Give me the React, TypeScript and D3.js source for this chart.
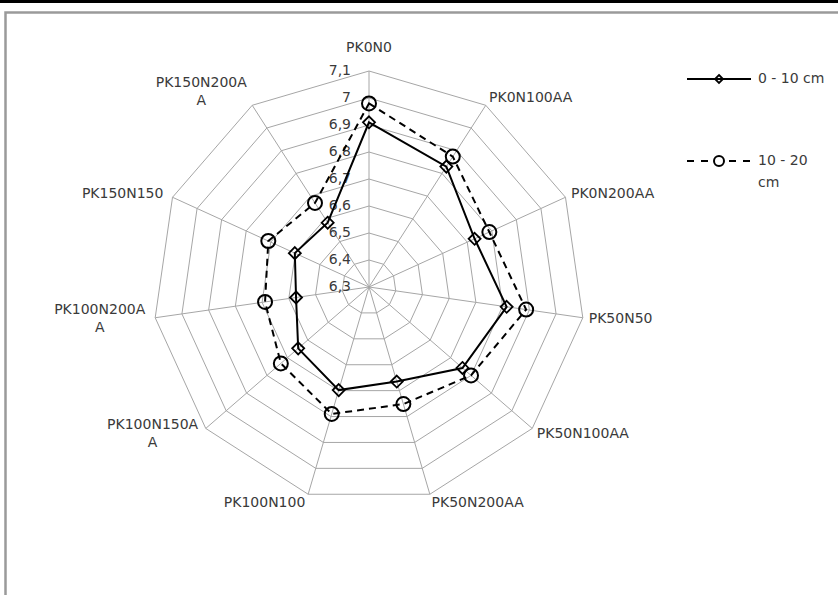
import { useRef, useEffect } from 'react';
import * as d3 from 'd3';

const W = 838, H = 595;
const CX = 369, CY = 287, R = 216;

const CATEGORIES = [
  'PK0N0', 'PK0N100AA', 'PK0N200AA', 'PK50N50', 'PK50N100AA', 'PK50N200AA',
  'PK100N100', 'PK100N150AA', 'PK100N200AA', 'PK150N150', 'PK150N200AA',
];
const DEPTH_0_10 = [6.91, 6.83, 6.73, 6.815, 6.758, 6.665, 6.698, 6.647, 6.573, 6.602, 6.583];
const DEPTH_10_20 = [6.98, 6.874, 6.79, 6.888, 6.8, 6.752, 6.79, 6.732, 6.689, 6.71, 6.67];
const TICKS = [6.3, 6.4, 6.5, 6.6, 6.7, 6.8, 6.9, 7.0, 7.1];
const SERIES_NAMES = ['0 - 10 cm', '10 - 20 cm'];

const FONT = 'DejaVu Sans, sans-serif';
const TEXT = '#3a3a3a';
const GRID = '#a6a6a6';

// Excel wraps long category names after 10 characters
const wrapCat = (s: string) => (s.length > 10 ? [s.slice(0, 10), s.slice(10)] : [s]);
const wrapLegend = (s: string) => {
  if (s.length <= 9) return [s];
  const k = s.lastIndexOf(' ');
  return [s.slice(0, k), s.slice(k + 1)];
};

export default function App() {
  const svgRef = useRef<SVGSVGElement>(null);

  useEffect(() => {
    const svg = d3.select(svgRef.current);
    svg.selectAll('*').remove();

    const n = CATEGORIES.length;
    const r = d3.scaleLinear().domain([TICKS[0], TICKS[TICKS.length - 1]]).range([0, R]);
    const ang = (i: number) => -Math.PI / 2 + (i * 2 * Math.PI) / n;
    const pt = (i: number, v: number): [number, number] => [
      CX + r(v) * Math.cos(ang(i)),
      CY + r(v) * Math.sin(ang(i)),
    ];

    svg.append('rect').attr('width', W).attr('height', H).attr('fill', '#fff');
    // frame: black strip at the top, grey chart border
    svg.append('rect').attr('width', W).attr('height', 3).attr('fill', '#000');
    svg.append('path').attr('d', `M5.5,${H} V12.5 H${W}`).attr('fill', 'none')
      .attr('stroke', '#9a9a9a').attr('stroke-width', 2.5);

    // web rings + spokes
    const grid = svg.append('g').attr('fill', 'none').attr('stroke', GRID).attr('stroke-width', 1);
    TICKS.slice(1).forEach(t => {
      grid.append('path').attr('d', d3.line()(d3.range(n).map(i => pt(i, t)))! + 'Z');
    });
    d3.range(n).forEach(i => {
      const [x, y] = pt(i, TICKS[TICKS.length - 1]);
      grid.append('line').attr('x1', CX).attr('y1', CY).attr('x2', x).attr('y2', y);
    });

    // value labels along the top spoke
    svg.append('g').selectAll('text').data(TICKS).join('text')
      .attr('x', CX - 18).attr('y', d => CY - r(d)).attr('text-anchor', 'end')
      .attr('dominant-baseline', 'middle').attr('font-family', FONT).attr('font-size', 14)
      .attr('fill', TEXT).text(d => d3.format('.1f')(d).replace('.', ',').replace(',0', ''));

    // category labels
    const catG = svg.append('g').attr('font-family', FONT).attr('font-size', 14).attr('fill', TEXT);
    CATEGORIES.forEach((c, i) => {
      const a = ang(i);
      const cos = Math.cos(a), sin = Math.sin(a);
      const [vx, vy] = pt(i, TICKS[TICKS.length - 1]);
      const lines = wrapCat(c);
      const lh = 18;
      const mid = Math.abs(cos) < 0.1;
      const x = mid ? vx : vx + cos * (cos > 0 ? 6 : 10);
      const yc = mid ? vy + sin * (lh / 2 + 14) : vy + sin * 9 + (lines.length > 1 && sin < 0 ? -6 : 0);
      const g = catG.append('g');
      const texts = lines.map((l, k) =>
        g.append('text').attr('y', yc + (k - (lines.length - 1) / 2) * lh)
          .attr('dominant-baseline', 'middle').text(l),
      );
      const w0 = (texts[0].node() as SVGTextElement).getComputedTextLength();
      const left = mid ? x - w0 / 2 : cos > 0 ? x : x - w0;
      texts.forEach(t => t.attr('x', left + w0 / 2).attr('text-anchor', 'middle'));
    });

    // series
    const line = d3.line<number>().x((v, i) => pt(i, v)[0]).y((v, i) => pt(i, v)[1])
      .curve(d3.curveLinearClosed);
    const diamond = (x: number, y: number, s: number) =>
      `M${x},${y - s} L${x + s},${y} L${x},${y + s} L${x - s},${y} Z`;

    svg.append('path').attr('d', line(DEPTH_10_20)).attr('fill', 'none').attr('stroke', '#000')
      .attr('stroke-width', 2).attr('stroke-dasharray', '7 5');
    svg.append('path').attr('d', line(DEPTH_0_10)).attr('fill', 'none').attr('stroke', '#000')
      .attr('stroke-width', 2);

    svg.append('g').selectAll('circle').data(DEPTH_10_20).join('circle')
      .attr('cx', (v, i) => pt(i, v)[0]).attr('cy', (v, i) => pt(i, v)[1]).attr('r', 7)
      .attr('fill', 'none').attr('stroke', '#000').attr('stroke-width', 2);
    svg.append('g').selectAll('path').data(DEPTH_0_10).join('path')
      .attr('d', (v, i) => diamond(pt(i, v)[0], pt(i, v)[1], 6))
      .attr('fill', 'none').attr('stroke', '#000').attr('stroke-width', 1.8);

    // legend
    const lg = svg.append('g').attr('transform', 'translate(687,79)');
    SERIES_NAMES.forEach((name, k) => {
      const y = k * 82;
      lg.append('line').attr('x1', 0).attr('x2', 64).attr('y1', y).attr('y2', y)
        .attr('stroke', '#000').attr('stroke-width', 2)
        .attr('stroke-dasharray', k === 1 ? '7 7' : null);
      if (k === 0) {
        lg.append('path').attr('d', diamond(32, y, 4)).attr('fill', 'none')
          .attr('stroke', '#000').attr('stroke-width', 1.8);
      } else {
        lg.append('circle').attr('cx', 32).attr('cy', y).attr('r', 5).attr('fill', '#fff')
          .attr('stroke', '#000').attr('stroke-width', 2);
      }
      wrapLegend(name).forEach((l, j) => {
        lg.append('text').attr('x', 71).attr('y', y + j * 22).attr('dominant-baseline', 'middle')
          .attr('font-family', FONT).attr('font-size', 14).attr('fill', TEXT).text(l);
      });
    });
  }, []);

  return (
    <svg
      ref={svgRef}
      width={W}
      height={H}
      viewBox={`0 0 ${W} ${H}`}
      style={{ position: 'absolute', left: 0, top: 0, display: 'block' }}
    />
  );
}
